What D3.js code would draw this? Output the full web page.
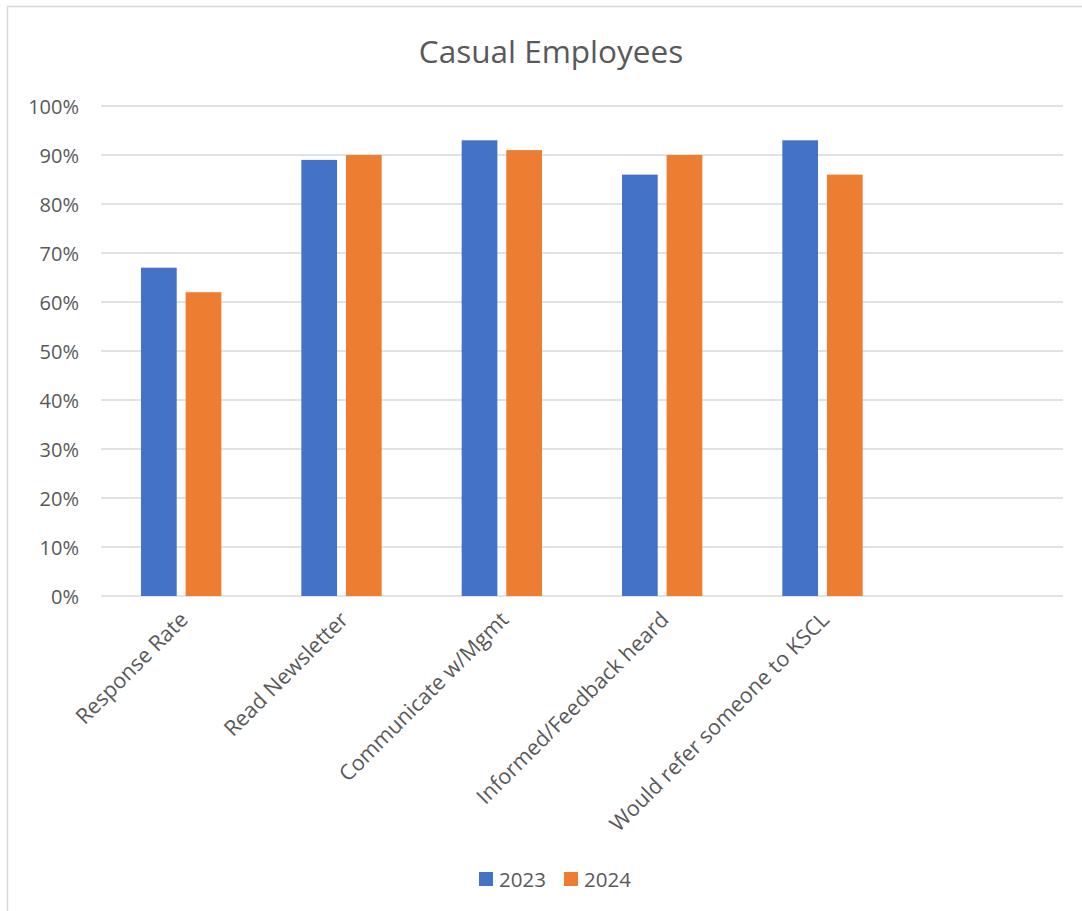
<!DOCTYPE html>
<html>
<head>
<meta charset="utf-8">
<script src="https://cdn.jsdelivr.net/npm/d3@7"></script>
<style>
  body { margin: 0; background: #fff; }
  text { font-family: "Open Sans", "Liberation Sans", sans-serif; fill: #595959; }
</style>
</head>
<body>
<script>
var categories = ["Response Rate", "Read Newsletter", "Communicate w/Mgmt",
                  "Informed/Feedback heard", "Would refer someone to KSCL", ""];
var seriesNames = ["2023", "2024"];
var values2023 = [0.67, 0.89, 0.93, 0.86, 0.93, null];
var values2024 = [0.62, 0.90, 0.91, 0.90, 0.86, null];
var yTicks = [0, 0.1, 0.2, 0.3, 0.4, 0.5, 0.6, 0.7, 0.8, 0.9, 1.0];
var colors = ["#4472c4", "#ed7d31"];

var W = 1082, H = 911;
var margin = {top: 106, right: 19, bottom: 315, left: 101},
    width = W - margin.left - margin.right,
    height = H - margin.top - margin.bottom;

var svg = d3.select("body").append("svg")
  .attr("width", W)
  .attr("height", H);

// chart frame (only top and left edges visible)
svg.append("path")
  .attr("d", "M7.5,911 V6.5 H1082")
  .attr("fill", "none")
  .attr("stroke", "#d9d9d9")
  .attr("stroke-width", 1.5);

svg.append("text")
  .attr("x", 551)
  .attr("y", 63)
  .attr("text-anchor", "middle")
  .style("font-size", "31.5px")
  .text("Casual Employees");

var g = svg.append("g")
  .attr("transform", "translate(" + margin.left + "," + margin.top + ")");

var x = d3.scaleBand().domain(d3.range(categories.length)).range([0, width]);
var x1 = d3.scaleBand().domain(seriesNames).range([40, x.bandwidth() - 40]).paddingInner(0.2);
var y = d3.scaleLinear().domain([0, 1]).range([height, 0]);

// gridlines
g.append("g")
  .selectAll("line")
  .data(yTicks)
  .enter().append("line")
  .attr("x1", 0)
  .attr("x2", width)
  .attr("y1", function(d) { return y(d); })
  .attr("y2", function(d) { return y(d); })
  .attr("stroke", "#d9d9d9")
  .attr("stroke-width", 1.5);

// y axis labels
var yAxis = g.append("g")
  .call(d3.axisLeft(y).tickValues(yTicks).tickFormat(d3.format(".0%")).tickSize(0).tickPadding(22));
yAxis.select(".domain").remove();
yAxis.selectAll("text")
  .style("font-size", "20px")
  .style("font-family", "'Open Sans', 'Liberation Sans', sans-serif")
  .attr("fill", "#595959")
  .attr("dy", "0.35em");

// bars
var series = [values2023, values2024];
series.forEach(function(vals, si) {
  g.append("g")
    .selectAll("rect")
    .data(vals.map(function(v, i) { return {i: i, v: v}; }).filter(function(d) { return d.v != null; }))
    .enter().append("rect")
    .attr("x", function(d) { return x(d.i) + x1(seriesNames[si]); })
    .attr("width", x1.bandwidth())
    .attr("y", function(d) { return y(d.v); })
    .attr("height", function(d) { return height - y(d.v); })
    .attr("fill", colors[si]);
});

// category labels, rotated
g.append("g")
  .selectAll("text")
  .data(categories)
  .enter().append("text")
  .attr("text-anchor", "end")
  .style("font-size", "21.5px")
  .attr("transform", function(d, i) {
    return "translate(" + (x(i) + x.bandwidth() / 2 + 8) + "," + (height + 25) + ") rotate(-45)";
  })
  .text(function(d) { return d; });

// legend
var legend = svg.append("g").attr("transform", "translate(479,870)");
var lx = [0, 85];
seriesNames.forEach(function(s, i) {
  legend.append("rect")
    .attr("x", lx[i])
    .attr("y", 2)
    .attr("width", 14)
    .attr("height", 14)
    .attr("fill", colors[i]);
  legend.append("text")
    .attr("x", lx[i] + 20)
    .attr("y", 17)
    .style("font-size", "20.5px")
    .text(s);
});
</script>
</body>
</html>
